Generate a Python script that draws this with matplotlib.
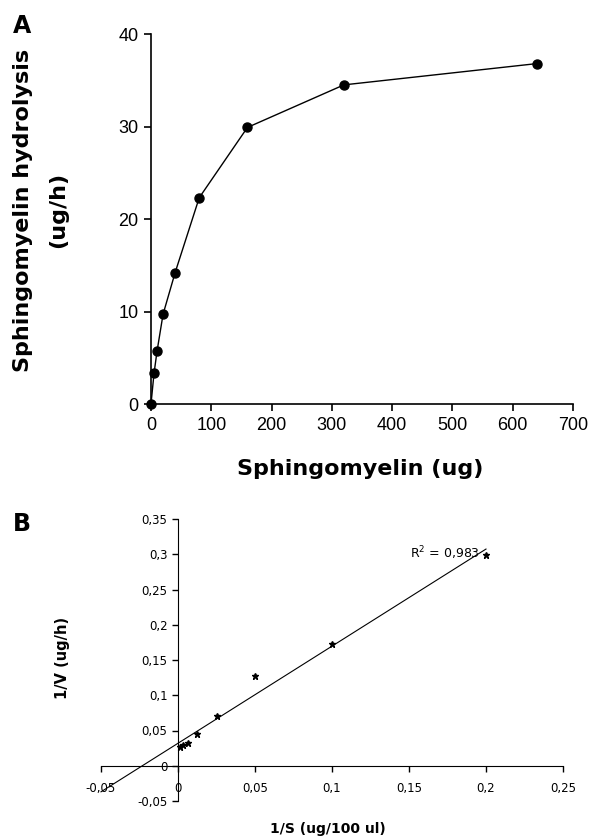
import matplotlib
matplotlib.use("Agg")
import matplotlib.pyplot as plt
import numpy as np
from matplotlib.ticker import FuncFormatter

plt.rcParams['font.family'] = ['Liberation Sans', 'DejaVu Sans']

# Panel A data
sm_ug = [0, 5, 10, 20, 40, 80, 160, 320, 640]
hydrolysis = [0, 3.3, 5.7, 9.7, 14.2, 22.3, 29.9, 34.5, 36.8]
a_xticks = [0, 100, 200, 300, 400, 500, 600, 700]
a_yticks = [0, 10, 20, 30, 40]

# Panel B data (Lineweaver-Burk)
inv_s = [0.2, 0.1, 0.05, 0.025, 0.0125, 0.00625, 0.003125, 0.0015625]
inv_v = [0.299, 0.173, 0.128, 0.071, 0.045, 0.032, 0.029, 0.027]
b_xticks = [-0.05, 0, 0.05, 0.1, 0.15, 0.2, 0.25]
b_yticks = [-0.05, 0, 0.05, 0.1, 0.15, 0.2, 0.25, 0.3, 0.35]
r2_text = "R$^2$ = 0,983"

BOLD = ['DejaVu Sans']
W, H = 592, 839

fig = plt.figure(figsize=(5.92, 8.39), dpi=100)

# ---------- Panel A ----------
axA = fig.add_axes([151/W, 1-404/H, (573-151)/W, (404-34)/H])
axA.plot(sm_ug, hydrolysis, color='black', lw=1, marker='o', ms=6.5,
         markerfacecolor='black', markeredgecolor='black', clip_on=False, zorder=3)
axA.set_xlim(0, 700)
axA.set_ylim(0, 40)
axA.set_xticks(a_xticks)
axA.set_yticks(a_yticks)
for s in ['top', 'right']:
    axA.spines[s].set_visible(False)
for s in ['left', 'bottom']:
    axA.spines[s].set_linewidth(1.2)
axA.tick_params(direction='out', length=5, width=1.2, labelsize=13, pad=4)
fig.text(360/W, 1-469/H, 'Sphingomyelin (ug)', fontsize=16, fontweight='bold',
         family=BOLD, ha='center', va='center')
fig.text(23/W, 1-210/H, 'Sphingomyelin hydrolysis', fontsize=16, fontweight='bold',
         family=BOLD, ha='center', va='center', rotation=90)
fig.text(58/W, 1-210/H, '(ug/h)', fontsize=16, fontweight='bold',
         family=BOLD, ha='center', va='center', rotation=90)
fig.text(22/W, 1-26/H, 'A', fontsize=17, fontweight='bold',
         family=BOLD, va='center', ha='center')

# ---------- Panel B ----------
axB = fig.add_axes([101/W, 1-801/H, (563-101)/W, (801-519)/H])
axB.set_xlim(-0.05, 0.25)
axB.set_ylim(-0.05, 0.35)
axB.spines['left'].set_position(('data', 0))
axB.spines['bottom'].set_position(('data', 0))
for s in ['top', 'right']:
    axB.spines[s].set_visible(False)
axB.set_xticks(b_xticks)
axB.set_yticks(b_yticks)

def comma_fmt(v, pos):
    if abs(v) < 1e-12:
        return '0'
    s = ('%.2f' % v).rstrip('0').rstrip('.')
    return s.replace('.', ',')

axB.xaxis.set_major_formatter(FuncFormatter(comma_fmt))
axB.yaxis.set_major_formatter(FuncFormatter(comma_fmt))
axB.tick_params(direction='out', length=4, width=1, labelsize=8.5)
axB.tick_params(axis='x', pad=8)
for lab in axB.get_xticklabels() + axB.get_yticklabels():
    lab.set_family('DejaVu Sans')

slope, intercept = np.polyfit(inv_s, inv_v, 1)
xl = np.array([-0.05, max(inv_s)])
axB.plot(xl, slope*xl + intercept, color='black', lw=0.8, clip_on=False)
axB.plot(inv_s, inv_v, linestyle='none', marker='*', ms=5, color='black', zorder=3)
axB.text(0.196, 0.302, r2_text, fontsize=9, ha='right', va='center', family='DejaVu Sans')

fig.text(328/W, 1-829/H, '1/S (ug/100 ul)', fontsize=10, fontweight='bold',
         family=BOLD, ha='center', va='center')
fig.text(63/W, 1-658/H, '1/V (ug/h)', fontsize=10.5, fontweight='bold',
         family=BOLD, ha='center', va='center', rotation=90)
fig.text(22/W, 1-524/H, 'B', fontsize=17, fontweight='bold',
         family=BOLD, va='center', ha='center')

fig.savefig('out.png', dpi=100)
